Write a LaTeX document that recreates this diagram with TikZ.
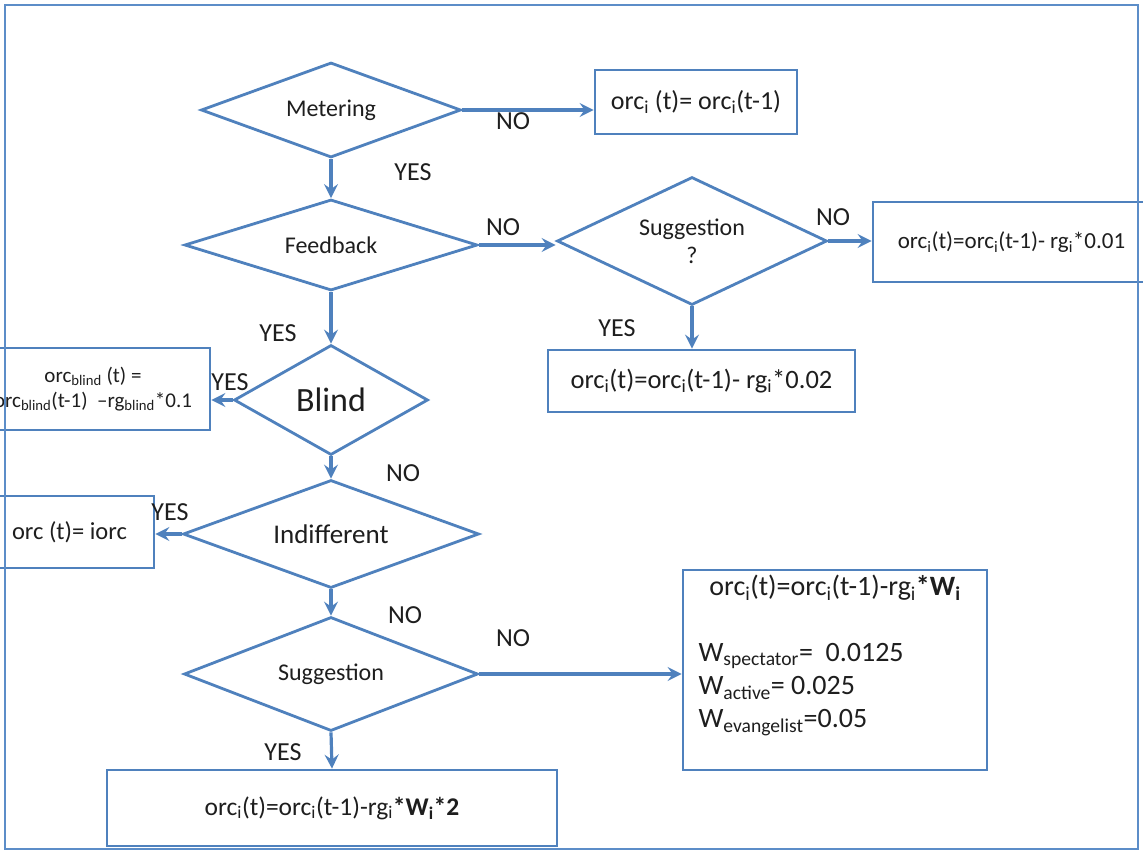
\documentclass[tikz,border=0pt]{standalone}
\usepackage{fontspec}
\setmainfont{Carlito}
\usetikzlibrary{shapes.geometric,arrows.meta,calc}

\definecolor{flowblue}{RGB}{79,129,189}
\definecolor{frameblue}{RGB}{92,141,200}
\definecolor{inkgrey}{RGB}{30,30,30}

\newcommand\sbs[1]{\textsubscript{#1}}
\newcommand\fsz[2]{\fontsize{#1}{#2}\selectfont}

\begin{document}
\begin{tikzpicture}[x=1pt,y=-1pt,
  every node/.style={text=inkgrey},
  decision/.style={diamond, draw=flowblue, line width=2.8pt, inner sep=0pt,
    fill=white, font=\fsz{24}{28}, align=center},
  action/.style={rectangle, draw=flowblue, line width=2.8pt, inner sep=0pt,
    fill=white},
  flow/.style={draw=flowblue, line width=3.2pt,
    -{Stealth[length=14pt,width=14pt,inset=5pt]}},
  answer/.style={font=\fsz{26}{30}}
]
\useasboundingbox (0,0) rectangle (1143,854);
\clip (0,0) rectangle (1143,854);

% decisions
\node[decision, minimum width=260pt, minimum height=95pt, aspect=2.7]
  (meter) at (331,110) {Metering};
\node[decision, minimum width=293pt, minimum height=91pt, aspect=3]
  (feed) at (331,245) {Feedback};
\node[decision, minimum width=270pt, minimum height=128pt, aspect=2.1]
  (sugq) at (692,241) {Suggestion\\?};
\node[decision, minimum width=194pt, minimum height=110pt, aspect=1.8,
  font=\fsz{34}{38}] (blind) at (331,400) {Blind};
\node[decision, minimum width=296pt, minimum height=108pt, aspect=2.7,
  font=\fsz{27}{30}] (indiff) at (331,534) {Indifferent};
\node[decision, minimum width=294pt, minimum height=114pt, aspect=2.6]
  (sugg) at (331,674) {Suggestion};

% actions
\node[action, minimum width=202pt, minimum height=64pt, font=\fsz{26}{30}]
  (keep) at (696,102) {orc\sbs{i} (t)= orc\sbs{i}(t-1)};
\node[action, minimum width=277pt, minimum height=80pt, font=\fsz{23}{27}]
  (dropA) at (1011.5,242) {orc\sbs{i}(t)=orc\sbs{i}(t-1)- rg\sbs{i}*0.01};
\node[action, minimum width=307pt, minimum height=62pt, font=\fsz{26.5}{30}]
  (dropB) at (701.5,381) {orc\sbs{i}(t)=orc\sbs{i}(t-1)- rg\sbs{i}*0.02};
\node[action, minimum width=234pt, minimum height=82pt, font=\fsz{21}{25},
  align=center] (blindbox) at (93,389)
  {orc\sbs{blind} (t) =\\orc\sbs{blind}(t-1) \ –rg\sbs{blind}*0.1};
\node[action, minimum width=169pt, minimum height=72pt, font=\fsz{24.5}{28}]
  (reset) at (69.5,532) {orc (t)= iorc};
\node[action, minimum width=304pt, minimum height=200pt] (weights) at (835,670) {};
\node[font=\fsz{28}{32}] (wrule) at (835,588)
  {orc\sbs{i}(t)=orc\sbs{i}(t-1)-rg\sbs{i}\textbf{*W\sbs{i}}};
\node[anchor=west, align=left, font=\fsz{28}{33}] (wlist) at (695,690)
  {W\sbs{spectator}=\ \ 0.0125\\W\sbs{active}= 0.025\\W\sbs{evangelist}=0.05};
\node[action, minimum width=450pt, minimum height=76pt, font=\fsz{25.5}{30}]
  (double) at (332,808) {orc\sbs{i}(t)=orc\sbs{i}(t-1)-rg\sbs{i}\textbf{*W\sbs{i}*2}};

% connectors
\draw[flow] (meter.east) -- (meter.east -| keep.west);
\draw[flow] (meter.south) -- (feed.north);
\draw[flow] (feed.east) -- (feed.east -| sugq.west);
\draw[flow] (sugq.east) -- (sugq.east -| dropA.west);
\draw[flow] (sugq.south) -- (sugq.south |- dropB.north);
\draw[flow] (feed.south) -- (blind.north);
\draw[flow] (blind.west) -- (blind.west -| blindbox.east);
\draw[flow] (blind.south) -- (indiff.north);
\draw[flow] (indiff.west) -- (indiff.west -| reset.east);
\draw[flow] (indiff.south) -- (sugg.north);
\draw[flow] (sugg.east) -- (sugg.east -| weights.west);
\draw[flow] (sugg.south) -- (double.north);

% branch labels
\node[answer] (l1) at (513,121) {NO};
\node[answer] (l2) at (413,172) {YES};
\node[answer] (l3) at (503,227) {NO};
\node[answer] (l4) at (278,333) {YES};
\node[answer] (l5) at (833,217) {NO};
\node[answer] (l6) at (617,328) {YES};
\node[answer] (l7) at (230,382) {YES};
\node[answer] (l8) at (403,473) {NO};
\node[answer] (l9) at (170,512) {YES};
\node[answer] (l10) at (405,615) {NO};
\node[answer] (l11) at (513,638) {NO};
\node[answer] (l12) at (283,752) {YES};

% outer frame
\draw[frameblue, line width=2.8pt] (5,5) rectangle (1138,849);
\end{tikzpicture}
\end{document}
